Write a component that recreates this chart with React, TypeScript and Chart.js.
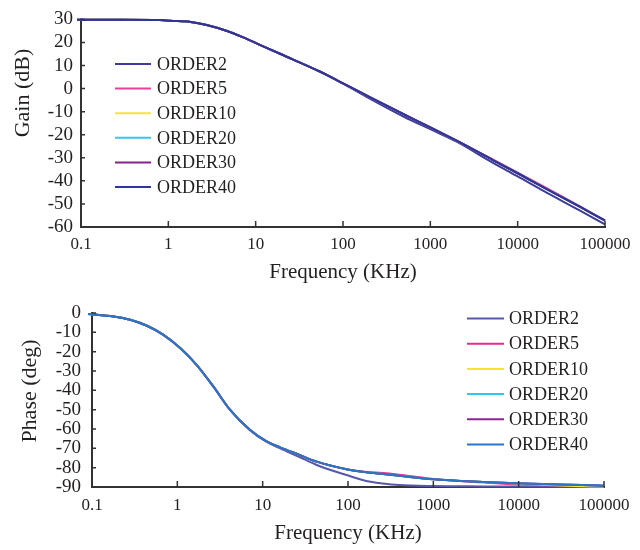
import React, { useEffect, useRef } from "react";
import { Chart, registerables } from "chart.js";
Chart.register(...registerables);

const SERIF = "'Liberation Serif', 'Times New Roman', serif";
const TEXT = "#231f20";

const seriesNames = ["ORDER2", "ORDER5", "ORDER10", "ORDER20", "ORDER30", "ORDER40"];
const gainColors = ["#3c3c9a", "#e8409a", "#f2e63c", "#3ec2ee", "#84248a", "#2e3598"];
const phaseColors = ["#5858aa", "#ea2a90", "#f2e630", "#34c4f2", "#922294", "#2a76c4"];

const freqTicks = [0.1, 1, 10, 100, 1000, 10000, 100000];
const freqTickLabels = ["0.1", "1", "10", "100", "1000", "10000", "100000"];
const gainTicks = [30, 20, 10, 0, -10, -20, -30, -40, -50, -60];
const phaseTicks = [0, -10, -20, -30, -40, -50, -60, -70, -80, -90];

// Gain (dB) vs frequency (KHz)
const gainFreq = [0.09, 0.3, 0.8, 1.05, 1.8, 2.75, 4.7, 7.2, 11, 19, 55, 100, 200, 500, 1000, 2000, 5000, 10000, 20000, 50000, 100000, 117000];
const gainOrder2 = [29.8, 29.8, 29.7, 29.4, 28.9, 27.6, 25.0, 22.2, 19.1, 15.1, 7.3, 2.2, -4.2, -12.2, -17.6, -23.0, -31.8, -38.1, -44.5, -52.6, -58.9, -60.3];
const gainOrder5 = [29.8, 29.8, 29.7, 29.4, 28.9, 27.6, 25.0, 22.2, 19.1, 15.1, 7.3, 2.3, -3.6, -11.2, -16.8, -22.6, -30.4, -36.4, -42.5, -50.7, -57.1, -58.3];
const gainOrder10 = [29.8, 29.8, 29.7, 29.4, 28.9, 27.6, 25.0, 22.2, 19.1, 15.1, 7.3, 2.3, -3.6, -11.2, -16.8, -22.6, -30.6, -36.7, -42.9, -51.0, -57.3, -58.7];
const gainOrder20 = [29.8, 29.8, 29.7, 29.4, 28.9, 27.6, 25.0, 22.2, 19.1, 15.1, 7.3, 2.3, -3.6, -11.2, -16.8, -22.6, -30.6, -36.7, -42.9, -51.0, -57.2, -58.5];
const gainOrder30 = [29.8, 29.8, 29.7, 29.4, 28.9, 27.6, 25.0, 22.2, 19.1, 15.1, 7.3, 2.3, -3.6, -11.2, -16.8, -22.6, -30.6, -36.7, -42.9, -51.0, -57.2, -58.5];
const gainOrder40 = [29.8, 29.8, 29.7, 29.4, 28.9, 27.6, 25.0, 22.2, 19.1, 15.1, 7.3, 2.3, -3.6, -11.2, -16.8, -22.6, -30.6, -36.7, -42.9, -51.0, -57.2, -58.5];

// Phase (deg) vs frequency (KHz)
const phaseFreq = [0.09, 0.178, 0.28, 0.44, 0.68, 1.07, 1.68, 2.64, 4.13, 7.08, 11, 16, 27, 43, 96, 164, 257, 400, 1000, 3800, 9400, 56000, 100000, 117000];
const phaseOrder2 = [-0.5, -1.8, -3.5, -6.6, -11.2, -18.0, -26.8, -38.0, -50.0, -60.6, -66.6, -70.0, -74.5, -78.6, -83.8, -86.9, -88.2, -89.0, -89.5, -89.7, -89.8, -89.9, -89.9, -90.0];
const phaseOrder5 = [-0.5, -1.8, -3.5, -6.6, -11.2, -18.0, -26.8, -38.0, -50.0, -60.4, -66.3, -69.5, -73.4, -76.9, -80.8, -82.2, -82.7, -83.6, -85.8, -87.6, -88.6, -89.4, -89.6, -89.7];
const phaseOrder10 = [-0.5, -1.8, -3.5, -6.6, -11.2, -18.0, -26.8, -38.0, -50.0, -60.4, -66.3, -69.5, -73.4, -76.9, -80.8, -82.4, -83.3, -84.2, -86.0, -87.4, -88.2, -89.6, -89.8, -89.9];
const phaseOrder20 = [-0.5, -1.8, -3.5, -6.6, -11.2, -18.0, -26.8, -38.0, -50.0, -60.4, -66.3, -69.5, -73.4, -76.9, -80.8, -82.4, -83.3, -84.2, -86.0, -87.4, -88.1, -89.0, -89.3, -89.5];
const phaseOrder30 = [-0.5, -1.8, -3.5, -6.6, -11.2, -18.0, -26.8, -38.0, -50.0, -60.4, -66.3, -69.5, -73.4, -76.9, -80.8, -82.4, -83.3, -84.2, -86.0, -87.4, -88.1, -89.0, -89.3, -89.5];
const phaseOrder40 = [-0.5, -1.8, -3.5, -6.6, -11.2, -18.0, -26.8, -38.0, -50.0, -60.4, -66.3, -69.5, -73.4, -76.9, -80.8, -82.4, -83.3, -84.2, -86.0, -87.4, -88.1, -89.0, -89.3, -89.5];

const gainSeries = [gainOrder2, gainOrder5, gainOrder10, gainOrder20, gainOrder30, gainOrder40];
const phaseSeries = [phaseOrder2, phaseOrder5, phaseOrder10, phaseOrder20, phaseOrder30, phaseOrder40];

const inlineLegend = {
  id: "inlineLegend",
  afterDraw(chart: any, _args: any, opts: any) {
    const { ctx } = chart;
    chart.data.datasets.forEach((ds: any, i: number) => {
      const y = opts.y0 + i * opts.dy;
      ctx.save();
      ctx.strokeStyle = ds.borderColor;
      ctx.lineWidth = 2;
      ctx.beginPath();
      ctx.moveTo(opts.x0, y);
      ctx.lineTo(opts.x1, y);
      ctx.stroke();
      ctx.fillStyle = TEXT;
      ctx.font = `${opts.size}px ${SERIF}`;
      ctx.textAlign = "left";
      ctx.textBaseline = "middle";
      ctx.fillText(ds.label, opts.tx, y + 1);
      ctx.restore();
    });
  },
};

const yTitle = {
  id: "yTitle",
  afterDraw(chart: any, _args: any, opts: any) {
    const { ctx } = chart;
    ctx.save();
    ctx.translate(opts.x, opts.y);
    ctx.rotate(-Math.PI / 2);
    ctx.fillStyle = TEXT;
    ctx.font = `${opts.size}px ${SERIF}`;
    ctx.textAlign = "center";
    ctx.textBaseline = "middle";
    ctx.fillText(opts.text, 0, 0);
    ctx.restore();
  },
};

const inwardTicks = {
  id: "inwardTicks",
  afterDraw(chart: any) {
    const { ctx, chartArea } = chart;
    const xs = chart.scales.x;
    const ys = chart.scales.y;
    ctx.save();
    ctx.strokeStyle = "#333";
    ctx.lineWidth = 1.5;
    ctx.beginPath();
    xs.ticks.forEach((t: any) => {
      const px = xs.getPixelForValue(t.value);
      ctx.moveTo(px, chartArea.bottom);
      ctx.lineTo(px, chartArea.bottom - 6);
    });
    ys.ticks.forEach((t: any) => {
      const py = ys.getPixelForValue(t.value);
      ctx.moveTo(chartArea.left, py);
      ctx.lineTo(chartArea.left + 4, py);
    });
    ctx.stroke();
    ctx.restore();
  },
};

function makeConfig(p: any): any {
  return {
    type: "line",
    data: {
      datasets: p.series.map((ys: number[], i: number) => ({
        label: seriesNames[i],
        data: ys.map((y, j) => ({ x: p.freq[j], y })),
        borderColor: p.colors[i],
        backgroundColor: p.colors[i],
        borderWidth: 2,
        pointRadius: 0,
        cubicInterpolationMode: "monotone",
        clip: false,
        order: 5 - i,
      })),
    },
    options: {
      responsive: false,
      animation: false,
      events: [],
      layout: { padding: { left: 0, top: p.top, right: p.right, bottom: 0 } },
      plugins: {
        legend: { display: false },
        tooltip: { enabled: false },
        inlineLegend: p.legend,
        yTitle: p.yTitle,
      },
      scales: {
        x: {
          type: "logarithmic",
          min: 0.1,
          max: 100000,
          afterBuildTicks: (s: any) => {
            s.ticks = freqTicks.map((v) => ({ value: v }));
          },
          afterFit: (s: any) => {
            s.height = p.xHeight;
          },
          ticks: {
            callback: (v: number) => {
              const k = freqTicks.indexOf(v);
              return k >= 0 ? freqTickLabels[k] : "";
            },
            font: { family: SERIF, size: 17 },
            color: TEXT,
            padding: p.xPad,
            maxRotation: 0,
            autoSkip: false,
          },
          grid: { display: true, drawOnChartArea: false, drawTicks: false },
          border: { display: true, color: "#333", width: 2 },
          title: {
            display: true,
            text: "Frequency (KHz)",
            font: { family: SERIF, size: 21 },
            color: TEXT,
            padding: { top: 0, bottom: p.xTitlePad },
          },
        },
        y: {
          type: "linear",
          min: p.yMin,
          max: p.yMax,
          afterBuildTicks: (s: any) => {
            s.ticks = p.yTicks.map((v: number) => ({ value: v }));
          },
          afterFit: (s: any) => {
            s.width = p.yWidth;
          },
          ticks: {
            font: { family: SERIF, size: 19 },
            color: TEXT,
            padding: p.yPad,
            autoSkip: false,
          },
          grid: { display: true, drawOnChartArea: false, drawTicks: false },
          border: { display: true, color: "#333", width: 2 },
        },
      },
    },
    plugins: [inlineLegend, yTitle, inwardTicks],
  };
}

export default function App() {
  const topRef = useRef<HTMLCanvasElement>(null);
  const botRef = useRef<HTMLCanvasElement>(null);

  useEffect(() => {
    const top = new Chart(
      topRef.current as HTMLCanvasElement,
      makeConfig({
        series: gainSeries,
        freq: gainFreq,
        colors: gainColors,
        top: 15,
        right: 35,
        xHeight: 63,
        xPad: 7,
        xTitlePad: 5,
        yWidth: 81,
        yPad: 8,
        yMin: -60,
        yMax: 30,
        yTicks: gainTicks,
        legend: { x0: 115, x1: 151, tx: 157, y0: 64, dy: 24.6, size: 18 },
        yTitle: { x: 23, y: 93, text: "Gain (dB)", size: 22 },
      })
    );
    const bot = new Chart(
      botRef.current as HTMLCanvasElement,
      makeConfig({
        series: phaseSeries,
        freq: phaseFreq,
        colors: phaseColors,
        top: 23,
        right: 36,
        xHeight: 63,
        xPad: 8,
        xTitlePad: 4,
        yWidth: 92,
        yPad: 11,
        yMin: -90,
        yMax: 0,
        yTicks: phaseTicks,
        legend: { x0: 467, x1: 504, tx: 509, y0: 28.5, dy: 25.2, size: 18 },
        yTitle: { x: 30, y: 101, text: "Phase (deg)", size: 22 },
      })
    );
    return () => {
      top.destroy();
      bot.destroy();
    };
  }, []);

  return (
    <div style={{ position: "fixed", left: 0, top: 0, width: 640, height: 550, background: "#fff" }}>
      <canvas ref={topRef} width={640} height={290} style={{ position: "absolute", left: 0, top: 0 }} />
      <canvas ref={botRef} width={640} height={260} style={{ position: "absolute", left: 0, top: 290 }} />
    </div>
  );
}
